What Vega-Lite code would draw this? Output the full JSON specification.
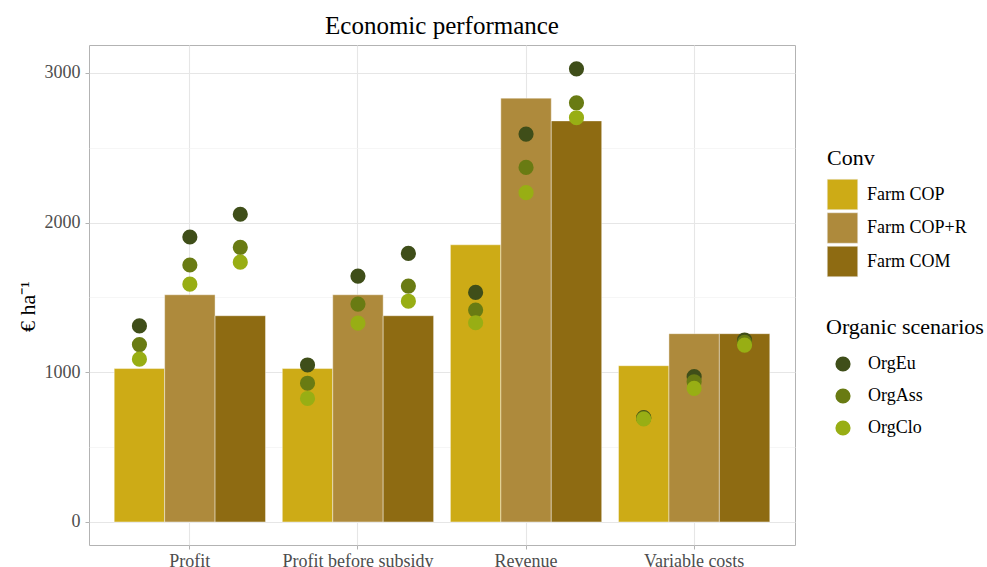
{
  "$schema": "https://vega.github.io/schema/vega-lite/v6.json",
  "width": 706,
  "height": 500,
  "autosize": {"type": "none"},
  "padding": {"left": 89, "top": 45, "right": 192, "bottom": 22},
  "background": "white",
  "title": {"text": "Economic performance", "fontSize": 25, "font": "Liberation Serif", "fontWeight": "normal", "color": "black", "anchor": "middle", "baseline": "bottom", "offset": -19, "frame": "group"},
  "config": {
    "view": {"stroke": "#B3B3B3", "strokeWidth": 1},
    "font": "Liberation Serif"
  },
  "datasets": {
    "bars": [
      {"category": "Profit", "farm": "Farm COP", "value": 1025},
      {"category": "Profit", "farm": "Farm COP+R", "value": 1518},
      {"category": "Profit", "farm": "Farm COM", "value": 1378},
      {"category": "Profit before subsidy", "farm": "Farm COP", "value": 1025},
      {"category": "Profit before subsidy", "farm": "Farm COP+R", "value": 1518},
      {"category": "Profit before subsidy", "farm": "Farm COM", "value": 1378},
      {"category": "Revenue", "farm": "Farm COP", "value": 1852},
      {"category": "Revenue", "farm": "Farm COP+R", "value": 2832},
      {"category": "Revenue", "farm": "Farm COM", "value": 2680},
      {"category": "Variable costs", "farm": "Farm COP", "value": 1044},
      {"category": "Variable costs", "farm": "Farm COP+R", "value": 1258},
      {"category": "Variable costs", "farm": "Farm COM", "value": 1258}
    ],
    "points": [
      {"category": "Profit", "farm": "Farm COP", "scenario": "OrgEu", "value": 1310},
      {"category": "Profit", "farm": "Farm COP+R", "scenario": "OrgEu", "value": 1904},
      {"category": "Profit", "farm": "Farm COM", "scenario": "OrgEu", "value": 2056},
      {"category": "Profit before subsidy", "farm": "Farm COP", "scenario": "OrgEu", "value": 1049},
      {"category": "Profit before subsidy", "farm": "Farm COP+R", "scenario": "OrgEu", "value": 1643},
      {"category": "Profit before subsidy", "farm": "Farm COM", "scenario": "OrgEu", "value": 1795},
      {"category": "Revenue", "farm": "Farm COP", "scenario": "OrgEu", "value": 1534},
      {"category": "Revenue", "farm": "Farm COP+R", "scenario": "OrgEu", "value": 2592},
      {"category": "Revenue", "farm": "Farm COM", "scenario": "OrgEu", "value": 3028},
      {"category": "Variable costs", "farm": "Farm COP", "scenario": "OrgEu", "value": 697},
      {"category": "Variable costs", "farm": "Farm COP+R", "scenario": "OrgEu", "value": 971},
      {"category": "Variable costs", "farm": "Farm COM", "scenario": "OrgEu", "value": 1216},
      {"category": "Profit", "farm": "Farm COP", "scenario": "OrgAss", "value": 1185},
      {"category": "Profit", "farm": "Farm COP+R", "scenario": "OrgAss", "value": 1717},
      {"category": "Profit", "farm": "Farm COM", "scenario": "OrgAss", "value": 1835},
      {"category": "Profit before subsidy", "farm": "Farm COP", "scenario": "OrgAss", "value": 927},
      {"category": "Profit before subsidy", "farm": "Farm COP+R", "scenario": "OrgAss", "value": 1456},
      {"category": "Profit before subsidy", "farm": "Farm COM", "scenario": "OrgAss", "value": 1576},
      {"category": "Revenue", "farm": "Farm COP", "scenario": "OrgAss", "value": 1416},
      {"category": "Revenue", "farm": "Farm COP+R", "scenario": "OrgAss", "value": 2369},
      {"category": "Revenue", "farm": "Farm COM", "scenario": "OrgAss", "value": 2801},
      {"category": "Variable costs", "farm": "Farm COP", "scenario": "OrgAss", "value": 693},
      {"category": "Variable costs", "farm": "Farm COP+R", "scenario": "OrgAss", "value": 937},
      {"category": "Variable costs", "farm": "Farm COM", "scenario": "OrgAss", "value": 1200},
      {"category": "Profit", "farm": "Farm COP", "scenario": "OrgClo", "value": 1088},
      {"category": "Profit", "farm": "Farm COP+R", "scenario": "OrgClo", "value": 1589},
      {"category": "Profit", "farm": "Farm COM", "scenario": "OrgClo", "value": 1736},
      {"category": "Profit before subsidy", "farm": "Farm COP", "scenario": "OrgClo", "value": 825},
      {"category": "Profit before subsidy", "farm": "Farm COP+R", "scenario": "OrgClo", "value": 1328},
      {"category": "Profit before subsidy", "farm": "Farm COM", "scenario": "OrgClo", "value": 1475},
      {"category": "Revenue", "farm": "Farm COP", "scenario": "OrgClo", "value": 1331},
      {"category": "Revenue", "farm": "Farm COP+R", "scenario": "OrgClo", "value": 2200},
      {"category": "Revenue", "farm": "Farm COM", "scenario": "OrgClo", "value": 2701},
      {"category": "Variable costs", "farm": "Farm COP", "scenario": "OrgClo", "value": 688},
      {"category": "Variable costs", "farm": "Farm COP+R", "scenario": "OrgClo", "value": 893},
      {"category": "Variable costs", "farm": "Farm COM", "scenario": "OrgClo", "value": 1182}
    ]
  },
  "encoding": {
    "x": {
      "field": "category", "type": "nominal",
      "sort": ["Profit", "Profit before subsidy", "Revenue", "Variable costs"],
      "scale": {"paddingInner": 0.1, "paddingOuter": 0.15},
      "axis": {"title": null, "domain": false, "tickColor": "#B3B3B3", "tickSize": 4, "labelFontSize": 18, "labelFont": "Liberation Serif", "labelColor": "#4D4D4D", "labelPadding": 3, "labelAngle": 0, "grid": true, "gridColor": "#E6E6E6", "gridWidth": 1.1, "bandPosition": 0.5}
    },
    "xOffset": {
      "field": "farm", "type": "nominal",
      "sort": ["Farm COP", "Farm COP+R", "Farm COM"],
      "scale": {"paddingInner": 0, "paddingOuter": 0}
    }
  },
  "layer": [
    {
      "data": {"name": "bars"},
      "mark": {"type": "bar", "stroke": "#ffffff", "strokeWidth": 0.7, "strokeOpacity": 0.6},
      "encoding": {
        "y": {
          "field": "value", "type": "quantitative",
          "scale": {"domain": [-154, 3187], "nice": false, "zero": false},
          "axis": {
            "values": [0, 500, 1000, 1500, 2000, 2500, 3000],
            "labelExpr": "datum.value % 1000 === 0 ? datum.label : ''",
            "format": "d",
            "labelOverlap": false,
            "title": "€ ha⁻¹",
            "grid": true,
            "gridColor": {"condition": {"test": "datum.value % 1000 === 0", "value": "#E6E6E6"}, "value": "#F2F2F2"},
            "gridWidth": {"condition": {"test": "datum.value % 1000 === 0", "value": 1.1}, "value": 0.7},
            "tickOpacity": {"condition": {"test": "datum.value % 1000 === 0", "value": 1}, "value": 0},
            "tickColor": "#B3B3B3", "tickSize": 4, "domain": false,
            "labelFontSize": 18, "labelColor": "#4D4D4D", "labelFont": "Liberation Serif", "labelPadding": 5,
            "titleFont": "Liberation Serif", "titleFontSize": 22, "titleFontWeight": "normal", "titleColor": "black",
            "titleX": -62, "titleY": 261, "titleAngle": -90, "titleBaseline": "middle", "titleAlign": "center"
          }
        },
        "y2": {"datum": 0},
        "fill": {
          "field": "farm", "type": "nominal",
          "sort": ["Farm COP", "Farm COP+R", "Farm COM"],
          "scale": {"domain": ["Farm COP", "Farm COP+R", "Farm COM"], "range": ["#CDAB16", "#AE8A3C", "#8E6B12"]},
          "legend": {
            "title": "Conv", "orient": "none", "legendX": 738, "legendY": 103,
            "symbolType": "square", "symbolSize": 930, "symbolStrokeWidth": 0.5, "symbolStrokeColor": "#eeeeee",
            "titleFontSize": 22, "labelFontSize": 18, "titleFont": "Liberation Serif", "labelFont": "Liberation Serif",
            "titleFontWeight": "normal", "titleColor": "black", "labelColor": "black",
            "labelOffset": 9, "rowPadding": 0.5, "titlePadding": 9
          }
        }
      }
    },
    {
      "data": {"name": "points"},
      "mark": {"type": "circle", "size": 230, "opacity": 1},
      "encoding": {
        "y": {"field": "value", "type": "quantitative"},
        "color": {
          "field": "scenario", "type": "nominal",
          "sort": ["OrgEu", "OrgAss", "OrgClo"],
          "scale": {"domain": ["OrgEu", "OrgAss", "OrgClo"], "range": ["#3F4E19", "#697B13", "#98AE14"]},
          "legend": {
            "title": "Organic scenarios", "orient": "none", "legendX": 737, "legendY": 272,
            "symbolType": "circle", "symbolSize": 230, "symbolOffset": 8, "symbolOpacity": 1,
            "titleFontSize": 22, "labelFontSize": 18, "titleFont": "Liberation Serif", "labelFont": "Liberation Serif",
            "titleFontWeight": "normal", "titleColor": "black", "labelColor": "black",
            "labelOffset": 16, "rowPadding": 14, "titlePadding": 16
          }
        }
      }
    }
  ]
}
